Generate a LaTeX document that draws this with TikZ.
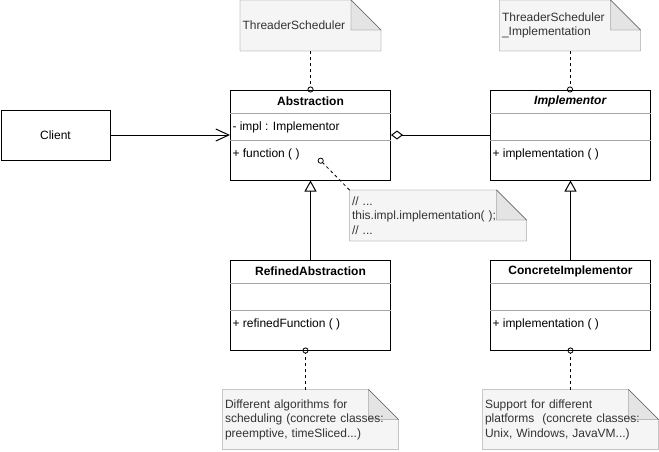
\documentclass[tikz,border=0pt]{standalone}
\usepackage{fontspec}
\setmainfont{Liberation Sans}
\usetikzlibrary{arrows.meta,backgrounds,positioning}
\definecolor{notefill}{HTML}{F5F5F5}
\definecolor{noteline}{HTML}{666666}
\definecolor{notetext}{HTML}{333333}
\definecolor{foldfill}{HTML}{E4E4E4}
\definecolor{sepline}{HTML}{A6A6A6}

\begin{document}
\begin{tikzpicture}[x=1pt,y=-1pt,line width=1pt,
              font=\fontsize{12}{14.5}\selectfont,
              classbox/.style={draw, minimum width=160pt, minimum height=90pt, inner sep=0pt},
              notebox/.style={text=notetext, align=left, inner sep=2pt}]
            \tikzstyle{member}=[anchor=west, inner sep=2pt]
            \tikzstyle{title}=[inner sep=0pt]
            \tikzstyle{sep}=[sepline, line width=0.8pt]
            \tikzstyle{notelink}=[dash pattern=on 3pt off 3pt, line width=0.8pt,
              -{Circle[open, length=6pt, line width=0.8pt]}, shorten >=-3pt]
            \useasboundingbox (0,0) rectangle (659,451);

            % classes
            \node[draw, minimum width=109pt, minimum height=50pt] (client) at (55.5,135) {Client};
            \node[classbox] (abs) at (310.5,135) {};
            \node[classbox] (imp) at (570.5,135) {};
            \node[classbox] (ra) at (310.5,305) {};
            \node[classbox] (ci) at (570.5,305) {};

            \node[title] (absT) at ([yshift=-12pt]abs.north) {\textbf{Abstraction}};
            \node[title] (impT) at ([yshift=-12pt]imp.north) {\textbf{\textit{Implementor}}};
            \node[title] (raT) at ([yshift=-12pt]ra.north) {\textbf{RefinedAbstraction}};
            \node[title] (ciT) at ([yshift=-12pt]ci.north) {\textbf{ConcreteImplementor}};

            \node[member] (absA) at ([yshift=-37.5pt]abs.north west) {- impl : Implementor};
            \node[member] (absO) at ([yshift=-65pt]abs.north west) {+ function ( )};
            \node[member] (impO) at ([yshift=-65pt]imp.north west) {+ implementation ( )};
            \node[member] (raO) at ([yshift=-65pt]ra.north west) {+ refinedFunction ( )};
            \node[member] (ciO) at ([yshift=-65pt]ci.north west) {+ implementation ( )};

            \foreach \c in {abs,imp,ra,ci}{
              \draw[sep] ([yshift=-24pt]\c.north west) -- ([yshift=-24pt]\c.north east);
              \draw[sep] ([yshift=-51pt]\c.north west) -- ([yshift=-51pt]\c.north east);
            }

            % notes
            \node[notebox, minimum width=140pt, minimum height=50pt, text width=136pt] (nAbs) at (310.5,25.5) {ThreaderScheduler};
            \node[notebox, minimum width=140pt, minimum height=50pt, text width=136pt] (nImp) at (570,25.5) {ThreaderScheduler\\\_Implementation};
            \node[notebox, minimum width=176pt, minimum height=50pt, text width=172pt] (nCall) at (438,215.5) {// ...\\this.impl.implementation( );\\// ...};
            \node[notebox, minimum width=175pt, minimum height=59pt, text width=171pt] (nRa) at (310.5,419.5) {Different algorithms for\\scheduling (concrete classes:\\preemptive, timeSliced...)};
            \node[notebox, minimum width=175pt, minimum height=59pt, text width=171pt] (nCi) at (570.5,419.5) {Support for different\\platforms \ (concrete classes:\\Unix, Windows, JavaVM...)};

            \begin{scope}[on background layer]
              \foreach \n in {nAbs,nImp,nCall,nRa,nCi}{
                \draw[noteline, fill=notefill] (\n.north west) -- ([xshift=-30pt]\n.north east)
                  -- ([yshift=-30pt]\n.north east) -- (\n.south east) -- (\n.south west) -- cycle;
                \draw[noteline, fill=foldfill] ([xshift=-30pt]\n.north east)
                  -- ([xshift=-30pt,yshift=-30pt]\n.north east) -- ([yshift=-30pt]\n.north east) -- cycle;
              }
            \end{scope}

            % connectors
            \coordinate (fcall) at (320.7,160.7);
            \draw[-{Straight Barb[length=13pt, width=12pt]}] (client) -- (abs);
            \draw[{Diamond[open, length=12pt, width=9pt]}-] (abs) -- (imp);
            \draw[-{Triangle[open, length=11pt, width=12pt]}] (ra) -- (abs);
            \draw[-{Triangle[open, length=11pt, width=12pt]}] (ci) -- (imp);
            \draw[notelink] (nAbs.south) -- (abs.north);
            \draw[notelink] (nImp.south) -- (nImp.south |- imp.north);
            \draw[notelink] (nCall.north west) -- (fcall);
            \draw[notelink] ([xshift=-5pt]ra.south |- nRa.north) -- ([xshift=-5pt]ra.south);
            \draw[notelink] (nCi.north) -- (nCi.north |- ci.south);
          \end{tikzpicture}
\end{document}
